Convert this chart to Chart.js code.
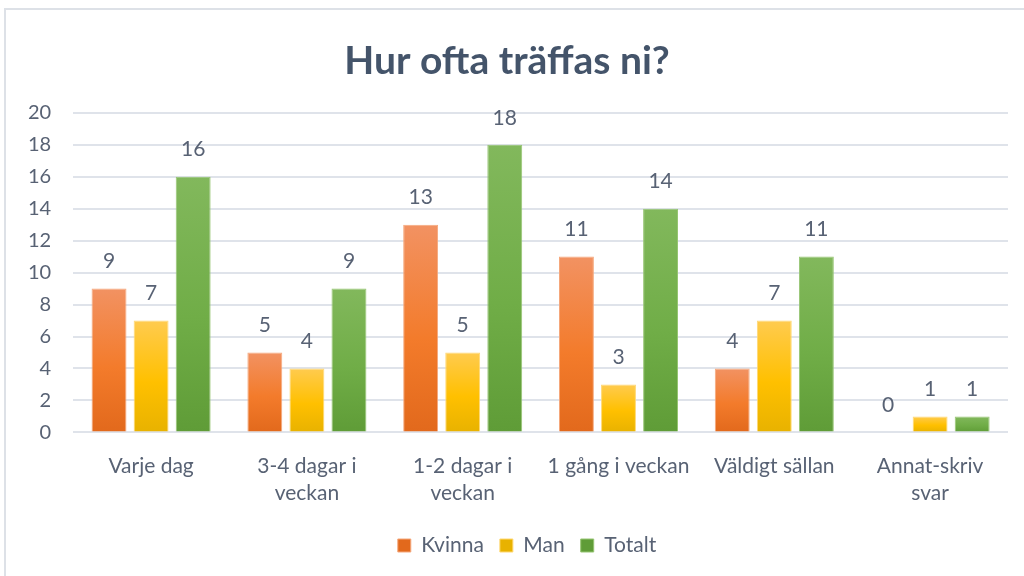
<!DOCTYPE html>
<html>
<head>
<meta charset="utf-8">
<script src="https://cdn.jsdelivr.net/npm/chart.js@4/dist/chart.umd.min.js"></script>
<style>
  html, body { margin: 0; padding: 0; background: #fff; }
  #ram { position: absolute; left: 4px; top: 8px; width: 1040px; height: 580px; border: 2px solid #dde1e7; box-sizing: border-box; }
  #wrap { position: absolute; left: 0; top: 0; width: 1024px; height: 576px; }
</style>
</head>
<body>
<div id="ram"></div>
<div id="wrap"><canvas id="diagram"></canvas></div>
<script>
const kategorier = [
  "Varje dag",
  ["3-4 dagar i", "veckan"],
  ["1-2 dagar i", "veckan"],
  "1 gång i veckan",
  "Väldigt sällan",
  ["Annat-skriv", "svar"]
];
const kvinna = [9, 5, 13, 11, 4, 0];
const man = [7, 4, 5, 3, 7, 1];
const totalt = [16, 9, 18, 14, 11, 1];
const yTicks = [0, 2, 4, 6, 8, 10, 12, 14, 16, 18, 20];

const textFarg = "#586274";
const typsnitt = "Lato, 'Open Sans', sans-serif";

// gradient per stapel, ljusare upptill, mörkare nertill
function gradient(topp, mitt, botten) {
  return function (context) {
    const chart = context.chart;
    if (!chart.chartArea || context.parsed == null) return mitt;
    const y = chart.scales.y;
    const y0 = y.getPixelForValue(context.parsed.y);
    const y1 = y.getPixelForValue(0);
    if (y1 - y0 < 1) return mitt;
    const g = chart.ctx.createLinearGradient(0, y0, 0, y1);
    g.addColorStop(0, topp);
    g.addColorStop(0.55, mitt);
    g.addColorStop(1, botten);
    return g;
  };
}

const etiketter = {
  id: "etiketter",
  afterDatasetsDraw(chart) {
    const ctx = chart.ctx;
    ctx.save();
    ctx.font = "21px " + typsnitt;
    ctx.fillStyle = textFarg;
    ctx.textAlign = "center";
    ctx.textBaseline = "middle";
    chart.data.datasets.forEach((ds, i) => {
      const meta = chart.getDatasetMeta(i);
      meta.data.forEach((bar, j) => {
        ctx.fillText(String(ds.data[j]), bar.x, bar.y - 27);
      });
    });
    ctx.restore();
  }
};

// förklaringen sitter lite till höger om mitten i originalet
const flyttaForklaring = {
  id: "flyttaForklaring",
  afterLayout(chart) {
    if (chart.legend) {
      chart.legend.left += 20;
      chart.legend.right += 20;
    }
  }
};

new Chart(document.getElementById("diagram"), {
  type: "bar",
  data: {
    labels: kategorier,
    datasets: [
      { label: "Kvinna", data: kvinna, backgroundColor: gradient("#f29262", "#f37b2b", "#e2691c"), borderColor: "#f5a87c", borderWidth: 1 },
      { label: "Man", data: man, backgroundColor: gradient("#ffcb4f", "#ffc000", "#e8b200"), borderColor: "#ffd873", borderWidth: 1 },
      { label: "Totalt", data: totalt, backgroundColor: gradient("#82b85c", "#70ad47", "#5f9c37"), borderColor: "#96c572", borderWidth: 1 }
    ]
  },
  options: {
    responsive: true,
    maintainAspectRatio: false,
    animation: false,
    categoryPercentage: 0.81,
    barPercentage: 0.83,
    layout: { padding: { top: 38, left: 6, right: 16, bottom: 10 } },
    plugins: {
      title: {
        display: true,
        text: "Hur ofta träffas ni?",
        color: "#44546a",
        font: { family: typsnitt, size: 39, weight: "bold" },
        padding: { top: 0, bottom: 28 }
      },
      legend: {
        position: "bottom",
        labels: {
          color: textFarg,
          font: { family: typsnitt, size: 21 },
          boxWidth: 13,
          boxHeight: 13,
          padding: 16
        }
      },
      tooltip: { enabled: false }
    },
    scales: {
      x: {
        grid: { display: false },
        border: { display: false },
        ticks: { color: textFarg, font: { family: typsnitt, size: 21, lineHeight: 1.3 }, padding: 12, maxRotation: 0 }
      },
      y: {
        min: 0,
        max: 20,
        afterBuildTicks: axis => { axis.ticks = yTicks.map(v => ({ value: v })); },
        grid: { color: "#dfe3ea", lineWidth: 2, drawTicks: false },
        border: { display: false },
        ticks: { color: textFarg, font: { family: typsnitt, size: 20 }, padding: 22 }
      }
    }
  },
  plugins: [etiketter, flyttaForklaring]
});
</script>
</body>
</html>
